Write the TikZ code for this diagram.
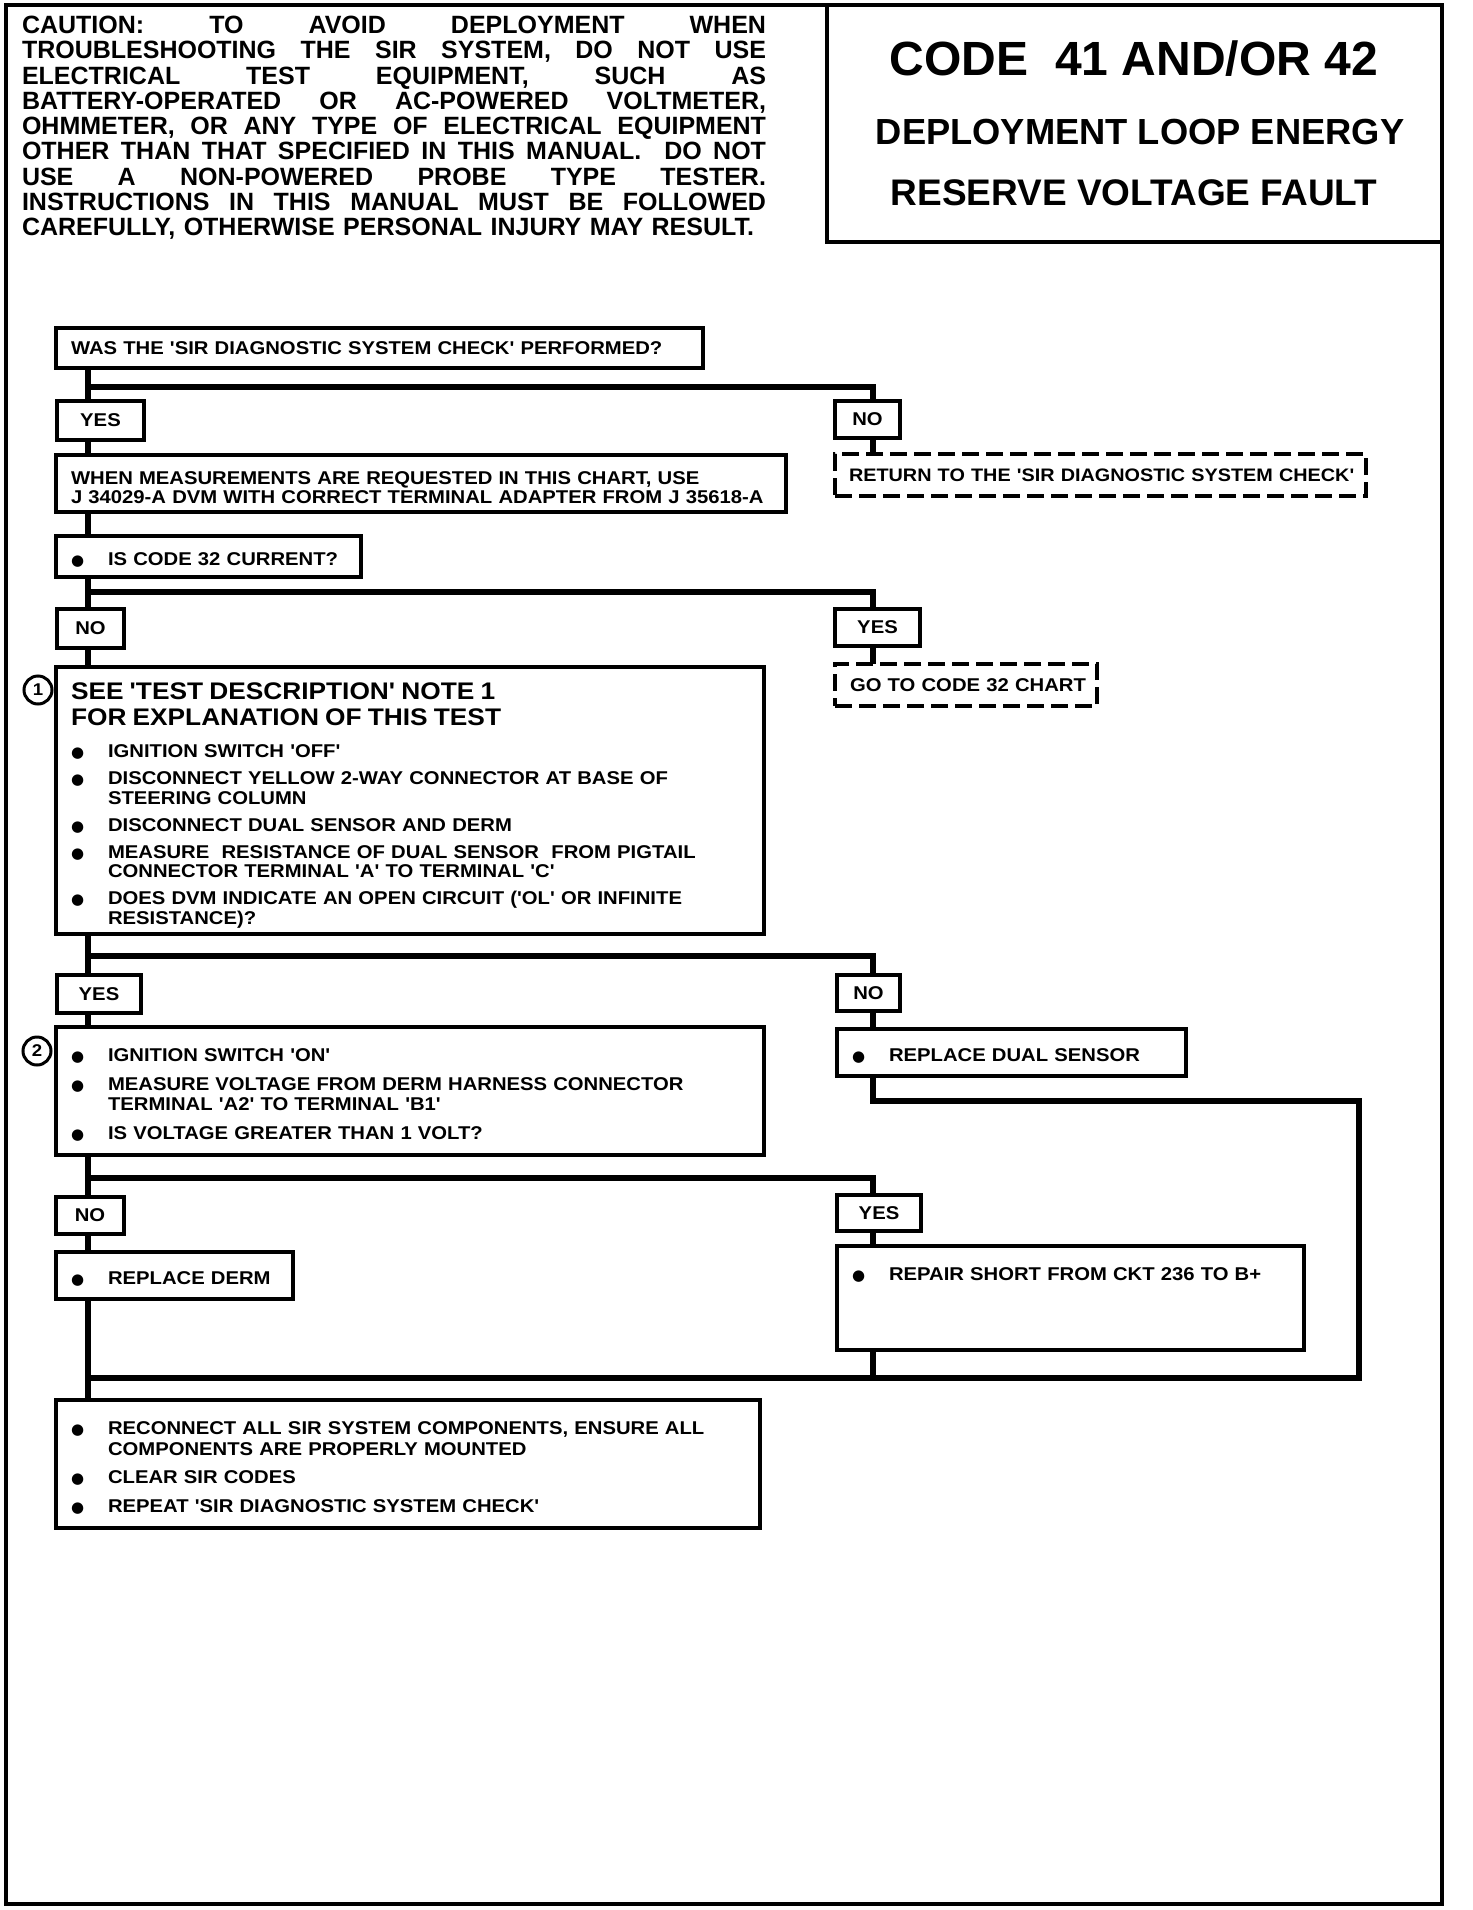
\documentclass[tikz,border=0pt]{standalone}
\usepackage{fontspec}
\setmainfont{Liberation Sans}
\newfontfamily\smf{Liberation Sans Bold}[FakeStretch=1.095]
\newfontfamily\cauf{Liberation Sans Bold}
\newfontfamily\djf{DejaVu Sans}
\newcommand\bul{\raisebox{0pt}{\djf\fontsize{15}{15}\selectfont ●}}
\newcommand\bitem[1]{\par\noindent\hangindent=37pt\hangafter=1\makebox[37pt][l]{\bul}#1\par}
\newcommand\jline[2]{\leavevmode\hbox to #1{#2}}
\begin{document}
\begin{tikzpicture}[x=1pt,y=-1pt,
  box/.style={draw, line width=3.6pt, anchor=north west, outer sep=0pt, inner xsep=15pt, inner ysep=0pt, align=left, font=\smf\fontsize{18.5}{19.5}\selectfont},
  lbl/.style={draw, line width=3.6pt, anchor=north west, outer sep=0pt, inner sep=0pt, align=center, font=\smf\fontsize{18.5}{19.5}\selectfont},
  dbox/.style={box, line width=4.2pt, dash pattern=on 17pt off 7pt},
  conn/.style={line width=6.5pt, line join=miter},
  numc/.style={circle, draw, line width=3pt, minimum size=28pt, inner sep=0pt, font=\smf\fontsize{17}{17}\selectfont},
  ttl/.style={inner sep=0pt, font=\cauf\fontsize{#1}{#1}\selectfont}
]
\useasboundingbox (0,0) rectangle (1472,1910);
% frame
\draw[line width=3.2pt] (6,5) rectangle (1442,1904);
% caution
\node[anchor=north west, inner sep=0pt, outer sep=0pt, align=left, text width=750pt,
      font=\cauf\fontsize{25}{25.3}\selectfont] (caution) at (22,16) {%
\jline{744pt}{CAUTION:\hfill TO\hfill AVOID\hfill DEPLOYMENT\hfill WHEN}\\
\jline{744pt}{TROUBLESHOOTING\hfill THE\hfill SIR\hfill SYSTEM,\hfill DO\hfill NOT\hfill USE}\\
\jline{744pt}{ELECTRICAL\hfill TEST\hfill EQUIPMENT,\hfill SUCH\hfill AS}\\
\jline{744pt}{BATTERY-OPERATED\hfill OR\hfill AC-POWERED\hfill VOLTMETER,}\\
\jline{744pt}{OHMMETER,\hfill OR\hfill ANY\hfill TYPE\hfill OF\hfill ELECTRICAL\hfill EQUIPMENT}\\
\jline{744pt}{OTHER\hfill THAN\hfill THAT\hfill SPECIFIED\hfill IN\hfill THIS\hfill MANUAL.\hfill\hfill DO\hfill NOT}\\
\jline{744pt}{USE\hfill A\hfill NON-POWERED\hfill PROBE\hfill TYPE\hfill TESTER.}\\
\jline{744pt}{INSTRUCTIONS\hfill IN\hfill THIS\hfill MANUAL\hfill MUST\hfill BE\hfill FOLLOWED}\\
\jline{732pt}{CAREFULLY,\hfill OTHERWISE\hfill PERSONAL\hfill INJURY\hfill MAY\hfill RESULT.}};
% title box
\node[draw, line width=4pt, anchor=north west, outer sep=0pt, minimum width=615pt, minimum height=237pt] (T) at (827,5) {};
\node[ttl=48] (t1) at (1134,59) {CODE\ \ 41 AND/OR 42};
\node[ttl=36.3] (t2) at (1140,132) {DEPLOYMENT LOOP ENERGY};
\node[ttl=37] (t3) at (1134,193) {RESERVE VOLTAGE FAULT};

% boxes
\node[box, minimum width=647pt, minimum height=40pt, text width=617pt] (A) at (56,328) {\mbox{WAS THE 'SIR DIAGNOSTIC SYSTEM CHECK' PERFORMED?}};
\node[lbl, minimum width=87pt, minimum height=39pt] (YES1) at (57,401) {YES};
\node[lbl, minimum width=65pt, minimum height=37pt] (NO1) at (835,401) {NO};
\node[box, minimum width=730pt, minimum height=57pt, text width=700pt] (B) at (56,455) {\rule{0pt}{21pt}\mbox{WHEN MEASUREMENTS ARE REQUESTED IN THIS CHART, USE}\\\mbox{J 34029-A DVM WITH CORRECT TERMINAL ADAPTER FROM J 35618-A}};
\node[dbox, inner xsep=14pt, minimum width=531pt, minimum height=42pt, text width=503pt] (Ret) at (835,454) {\fontsize{18.1}{19}\selectfont\mbox{RETURN TO THE 'SIR DIAGNOSTIC SYSTEM CHECK'}};
\node[box, minimum width=305pt, minimum height=41pt, text width=275pt] (C) at (56,536) {\bitem{IS CODE 32 CURRENT?}};
\node[lbl, minimum width=67pt, minimum height=39pt] (NO2) at (57,609) {NO};
\node[lbl, minimum width=85pt, minimum height=37pt] (YES2) at (835,609) {YES};
\node[dbox, minimum width=262pt, minimum height=42pt, text width=232pt] (Go) at (835,664) {\mbox{GO TO CODE 32 CHART}};
\node[box, minimum width=708pt, minimum height=267pt, text width=678pt] (D) at (56,667) {%
{\fontsize{24}{25.5}\selectfont \rule{0pt}{27pt}SEE 'TEST DESCRIPTION' NOTE 1\\FOR EXPLANATION OF THIS TEST\par}\vspace{13pt}
\bitem{IGNITION SWITCH 'OFF'}\vspace{7.5pt}
\bitem{DISCONNECT YELLOW 2-WAY CONNECTOR AT BASE OF\newline STEERING COLUMN}\vspace{7.5pt}
\bitem{DISCONNECT DUAL SENSOR AND DERM}\vspace{7.5pt}
\bitem{MEASURE\ \ RESISTANCE OF DUAL SENSOR\ \ FROM PIGTAIL\newline CONNECTOR TERMINAL 'A' TO TERMINAL 'C'}\vspace{7.5pt}
\bitem{DOES DVM INDICATE AN OPEN CIRCUIT ('OL' OR INFINITE\newline RESISTANCE)?}};
\node[numc] (n1) at (38,690) {1};
\node[lbl, minimum width=84pt, minimum height=38pt] (YES3) at (57,975) {YES};
\node[lbl, minimum width=63pt, minimum height=36pt] (NO3) at (837,975) {NO};
\node[box, minimum width=708pt, minimum height=128pt, text width=678pt] (E) at (56,1027) {%
\fontsize{18.5}{20.5}\selectfont
\bitem{IGNITION SWITCH 'ON'}\vspace{8.5pt}
\bitem{MEASURE VOLTAGE FROM DERM HARNESS CONNECTOR\newline TERMINAL 'A2' TO TERMINAL 'B1'}\vspace{8.5pt}
\bitem{IS VOLTAGE GREATER THAN 1 VOLT?}};
\node[numc] (n2) at (37,1051) {2};
\node[box, minimum width=349pt, minimum height=47pt, text width=319pt] (F) at (837,1029) {\bitem{REPLACE DUAL SENSOR}};
\node[lbl, minimum width=68pt, minimum height=37pt] (NO4) at (56,1197) {NO};
\node[lbl, minimum width=84pt, minimum height=36pt] (YES4) at (837,1195) {YES};
\node[box, minimum width=237pt, minimum height=47pt, text width=207pt] (G) at (56,1252) {\bitem{REPLACE DERM}};
\node[box, minimum width=467pt, minimum height=104pt, text width=437pt] (H) at (837,1246) {\parbox[c][96pt][t]{437pt}{\vspace*{18pt}\bitem{REPAIR SHORT FROM CKT 236 TO B+}}};
\node[box, minimum width=704pt, minimum height=128pt, text width=674pt] (I) at (56,1400) {%
\fontsize{18.5}{20.5}\selectfont
\bitem{RECONNECT ALL SIR SYSTEM COMPONENTS, ENSURE ALL\newline COMPONENTS ARE PROPERLY MOUNTED}\vspace{8pt}
\bitem{CLEAR SIR CODES}\vspace{8pt}
\bitem{REPEAT 'SIR DIAGNOSTIC SYSTEM CHECK'}};

% connector coordinates
\coordinate (tx) at (88,0);
\coordinate (rx) at (873,0);
\coordinate (b1) at (88,387);
\coordinate (b2) at (88,592);
\coordinate (b3) at (88,956);
\coordinate (b4) at (88,1178);
\coordinate (fr) at (1359,1101);
\coordinate (m) at (88,1378);
\coordinate (m2) at (873,1378);

% connectors
\draw[conn] (A.south -| tx) -- (YES1.north -| tx);
\draw[conn] (b1) -| (NO1.north -| rx);
\draw[conn] (YES1.south -| tx) -- (B.north -| tx);
\draw[conn] (NO1.south -| rx) -- (Ret.north -| rx);
\draw[conn] (B.south -| tx) -- (C.north -| tx);
\draw[conn] (C.south -| tx) -- (NO2.north -| tx);
\draw[conn] (b2) -| (YES2.north -| rx);
\draw[conn] (YES2.south -| rx) -- (Go.north -| rx);
\draw[conn] (NO2.south -| tx) -- (D.north -| tx);
\draw[conn] (D.south -| tx) -- (YES3.north -| tx);
\draw[conn] (b3) -| (NO3.north -| rx);
\draw[conn] (YES3.south -| tx) -- (E.north -| tx);
\draw[conn] (NO3.south -| rx) -- (F.north -| rx);
\draw[conn] (E.south -| tx) -- (NO4.north -| tx);
\draw[conn] (b4) -| (YES4.north -| rx);
\draw[conn] (NO4.south -| tx) -- (G.north -| tx);
\draw[conn] (YES4.south -| rx) -- (H.north -| rx);
\draw[conn] (G.south -| tx) -- (I.north -| tx);
\draw[conn] (H.south -| rx) -- (m2);
\draw[conn] (F.south -| rx) |- (fr) |- (m);
\end{tikzpicture}
\end{document}
